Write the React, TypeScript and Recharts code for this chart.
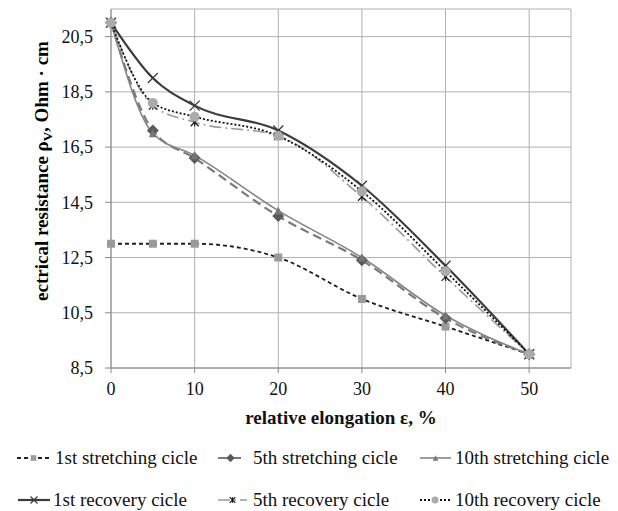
import React from "react";
import { LineChart, Line, XAxis, YAxis, CartesianGrid } from "recharts";

const elongation = [0, 5, 10, 20, 30, 40, 50];
const stretch1 = [13, 13, 13, 12.5, 11, 10, 9];
const stretch5 = [21, 17.1, 16.1, 14, 12.4, 10.3, 9];
const stretch10 = [21, 17, 16.2, 14.2, 12.5, 10.4, 9];
const recovery1 = [21, 19, 18, 17.1, 15.1, 12.2, 9];
const recovery5 = [21, 18, 17.4, 16.9, 14.7, 11.8, 9];
const recovery10 = [21, 18.1, 17.6, 16.9, 14.9, 12, 9];

const xTicks = [0, 10, 20, 30, 40, 50];
const yTicks = [8.5, 10.5, 12.5, 14.5, 16.5, 18.5, 20.5];

const data = elongation.map((e, i) => ({
  e,
  s1: stretch1[i],
  s5: stretch5[i],
  s10: stretch10[i],
  r1: recovery1[i],
  r5: recovery5[i],
  r10: recovery10[i],
}));

const FONT = "'Liberation Serif', 'Times New Roman', serif";

// marker shapes, k scales them down for the legend
function Square({ cx, cy, k = 1 }: any) {
  const s = 4 * k;
  return <rect x={cx - s} y={cy - s} width={2 * s} height={2 * s} fill="#9a9a9a" />;
}
function Diamond({ cx, cy, k = 1 }: any) {
  const s = 6 * k;
  return (
    <polygon
      points={`${cx},${cy - s} ${cx + s},${cy} ${cx},${cy + s} ${cx - s},${cy}`}
      fill="#5a5a5a"
    />
  );
}
function Triangle({ cx, cy, k = 1 }: any) {
  const s = 4 * k;
  return (
    <polygon
      points={`${cx},${cy - s} ${cx + s},${cy + s} ${cx - s},${cy + s}`}
      fill="#777"
    />
  );
}
function Cross({ cx, cy, k = 1 }: any) {
  const s = 5 * k;
  return (
    <g stroke="#3a3a3a" strokeWidth={1.3}>
      <line x1={cx - s} y1={cy - s} x2={cx + s} y2={cy + s} />
      <line x1={cx - s} y1={cy + s} x2={cx + s} y2={cy - s} />
    </g>
  );
}
function Star({ cx, cy, k = 1 }: any) {
  const s = 4 * k;
  return (
    <g stroke="#1a1a1a" strokeWidth={1.2}>
      <line x1={cx - s} y1={cy - s} x2={cx + s} y2={cy + s} />
      <line x1={cx - s} y1={cy + s} x2={cx + s} y2={cy - s} />
      <line x1={cx} y1={cy - s} x2={cx} y2={cy + s} />
    </g>
  );
}
function Circle({ cx, cy, k = 1 }: any) {
  return <circle cx={cx} cy={cy} r={5 * k} fill="#ababab" />;
}

const series = [
  { key: "s1", name: "1st stretching cicle", stroke: "#1e1e1e", width: 1.8, dash: "4 3", Dot: Square },
  { key: "s5", name: "5th stretching cicle", stroke: "#7a7a7a", width: 2.2, dash: "9 5", Dot: Diamond },
  { key: "s10", name: "10th stretching cicle", stroke: "#858585", width: 1.6, dash: undefined, Dot: Triangle },
  { key: "r1", name: "1st recovery cicle", stroke: "#3c3c3c", width: 2.2, dash: undefined, Dot: Cross },
  { key: "r5", name: "5th recovery cicle", stroke: "#9a9a9a", width: 1.6, dash: "12 4 2 4", Dot: Star },
  { key: "r10", name: "10th recovery cicle", stroke: "#111", width: 1.8, dash: "2 2", Dot: Circle },
];

const legendPos = [
  { x: 17, w: 33, tx: 55, y: 458 },
  { x: 218, w: 25, tx: 253, y: 458 },
  { x: 420, w: 31, tx: 455, y: 458 },
  { x: 18, w: 32, tx: 53, y: 500 },
  { x: 218, w: 29, tx: 253, y: 500 },
  { x: 420, w: 30, tx: 455, y: 500 },
];

function LegendItem({ s, p }: any) {
  const Dot = s.Dot;
  return (
    <>
      <svg width={p.w} height={14} style={{ position: "absolute", left: p.x, top: p.y - 7 }}>
        <line x1={0} y1={7} x2={p.w} y2={7} stroke={s.stroke} strokeWidth={s.width} strokeDasharray={s.dash} />
        <Dot cx={p.w / 2} cy={7} k={0.7} />
      </svg>
      <div style={{ position: "absolute", left: p.tx, top: p.y - 12, lineHeight: "24px", whiteSpace: "nowrap" }}>
        {s.name}
      </div>
    </>
  );
}

function YLabel() {
  const cx = 48;
  const cy = 171;
  return (
    <text
      x={cx}
      y={cy}
      transform={`rotate(-90 ${cx} ${cy})`}
      textAnchor="middle"
      fontFamily={FONT}
      fontWeight="bold"
      fontSize={19}
      fill="#000"
    >
      ectrical resistance ρ
      <tspan fontSize={13} dy={4}>V</tspan>
      <tspan dy={-4}>, Ohm · cm</tspan>
    </text>
  );
}

export default function App() {
  return (
    <div style={{ position: "absolute", left: 0, top: 0, width: 618, height: 511, background: "#fff", fontFamily: FONT, fontSize: 19, color: "#111" }}>
      <LineChart width={618} height={511} data={data} margin={{ top: 9, right: 47, bottom: 113, left: 0 }}>
        <CartesianGrid stroke="#b0b0b0" strokeWidth={1} />
        <XAxis
          dataKey="e"
          type="number"
          domain={[0, 55]}
          ticks={xTicks}
          height={30}
          stroke="#888"
          tickSize={5}
          tickMargin={9}
          tick={{ fill: "#111", fontSize: 18, fontFamily: FONT }}
        />
        <YAxis
          type="number"
          domain={[8.5, 21.5]}
          ticks={yTicks}
          width={111}
          stroke="#888"
          tickSize={6}
          tickMargin={12}
          tickFormatter={(v: number) => v.toFixed(1).replace(".", ",")}
          tick={{ fill: "#111", fontSize: 18, fontFamily: FONT }}
          label={<YLabel />}
        />
        {series.map((s) => (
          <Line
            key={s.key}
            dataKey={s.key}
            name={s.name}
            type="monotone"
            stroke={s.stroke}
            strokeWidth={s.width}
            strokeDasharray={s.dash}
            dot={(p: any) => <s.Dot key={`${s.key}-${p.index}`} cx={p.cx} cy={p.cy} />}
            activeDot={false}
            isAnimationActive={false}
          />
        ))}
      </LineChart>
      <div style={{ position: "absolute", left: 111, width: 460, top: 406, lineHeight: "24px", textAlign: "center", fontWeight: "bold" }}>
        relative elongation ε, %
      </div>
      {series.map((s, i) => (
        <LegendItem key={s.key} s={s} p={legendPos[i]} />
      ))}
    </div>
  );
}
